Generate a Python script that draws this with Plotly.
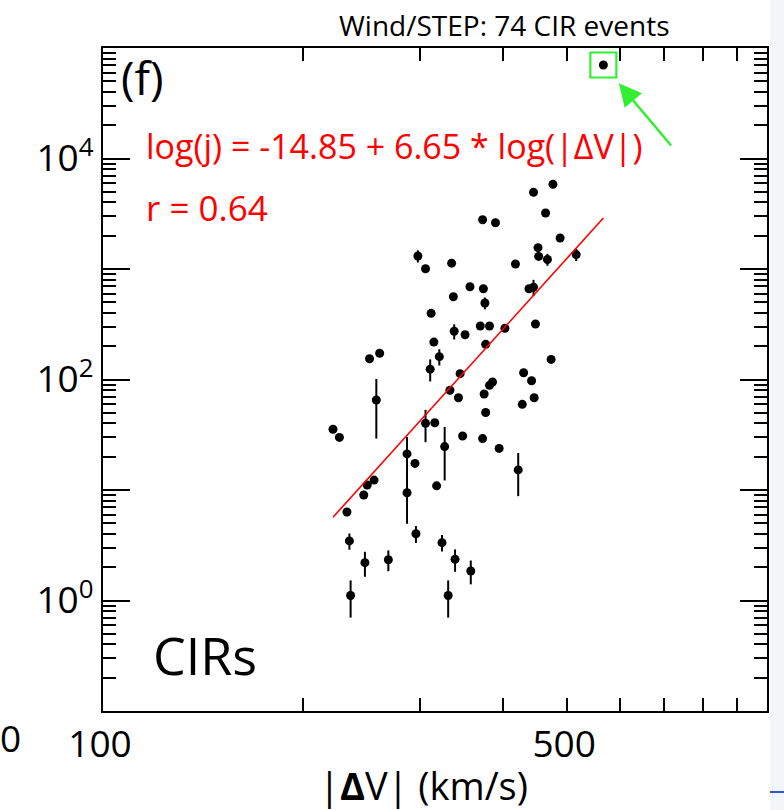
import numpy as np
import plotly.graph_objects as go

# ---- data ----
speed = [476, 445, 464, 373, 390, 488, 452, 453, 467, 516,
         298, 306, 335, 418, 357, 374, 438, 445, 337, 376,
         312, 370, 382, 403, 448, 338, 351, 377, 315, 321,
         311, 261, 252, 473, 345, 430, 442, 386, 382, 258,
         333, 343, 375, 428, 446, 377, 222, 227, 306, 316,
         348, 373, 327, 395, 287, 287, 422, 295, 318, 247,
         250, 256, 233, 235, 248, 269, 296, 324, 339, 358,
         236, 331, 567]
flux = [5840, 4940, 3210, 2790, 2620, 1910, 1560, 1300, 1220, 1350,
        1310, 1006, 1130, 1110, 691, 663, 663, 683, 561, 492,
        397, 305, 305, 291, 318, 273, 254, 208, 218, 161,
        124, 173, 154, 152, 113, 115, 97.5, 94.9, 88.6, 65.2,
        79.9, 68.4, 73.9, 59.6, 68.4, 50.3, 35.5, 29.9, 40.1, 40.6,
        30.8, 29.2, 24.7, 23.8, 21.2, 9.45, 15.2, 17.4, 10.9, 9.01,
        11.1, 12.3, 6.32, 3.46, 2.20, 2.34, 4.02, 3.34, 2.36, 1.85,
        1.11, 1.11, 70150]
flux_err = [0, 0, 0, 0, 0, 0, 0, 0, 150, 170,
            165, 0, 0, 0, 0, 0, 0, 115, 0, 60,
            0, 0, 0, 0, 0, 43, 0, 0, 0, 27,
            28, 0, 0, 0, 0, 0, 0, 0, 0, 36,
            0, 0, 0, 0, 0, 0, 0, 0, 13, 0,
            0, 0, 12.5, 0, 9, 4.5, 6.4, 0, 0, 0,
            0, 0, 0.53, 0.58, 0.56, 0.50, 0.70, 0.57, 0.54, 0.45,
            0.41, 0.41, 0]

fit_a, fit_b = -14.85, 6.65
x_label_ticks = [100, 500]
x_label_text = ["100", "500"]
x_other_ticks = [200, 300, 400, 600, 700, 800, 900]
y_label_ticks = [1, 100, 1e4]
y_label_text = ["10<sup>0</sup>", "10<sup>2</sup>", "10<sup>4</sup>"]
y_other_major = [10, 1000]
y_minor = [m * 10.0 ** e for e in range(-1, 5) for m in range(2, 10)]

FONT = "Open Sans"

fig = go.Figure()

# fit line across the data span (on the overlay axis carrying the unlabeled decade ticks)
xl = np.array([min(speed), max(speed)], dtype=float)
yl = 10 ** (fit_a + fit_b * np.log10(xl))
fig.add_trace(go.Scatter(x=xl, y=yl, mode="lines", yaxis="y2",
                         line=dict(color="#ff0000", width=1.6),
                         hoverinfo="skip", showlegend=False))

fig.add_trace(go.Scatter(
    x=speed, y=flux, mode="markers",
    marker=dict(color="black", size=9),
    error_y=dict(type="data", array=flux_err, visible=True,
                 color="black", thickness=2, width=0),
    showlegend=False))

tickfont = dict(family=FONT, size=37, color="black")

fig.update_layout(
    xaxis=dict(type="log", range=[2, 3], tickmode="array",
               tickvals=x_label_ticks, ticktext=x_label_text,
               ticks="inside", ticklen=13, tickwidth=1.8, tickcolor="black",
               minor=dict(tickmode="array", tickvals=x_other_ticks, ticks="inside",
                          ticklen=13, tickwidth=1.8, tickcolor="black"),
               showgrid=False, zeroline=False, showline=True,
               linecolor="black", linewidth=2, mirror="ticks",
               tickfont=tickfont, ticklabelshift=-3),
    yaxis=dict(type="log", range=[-1, 5], tickmode="array",
               tickvals=y_label_ticks, ticktext=y_label_text,
               ticks="inside", ticklen=27, tickwidth=1.8, tickcolor="black",
               minor=dict(tickmode="array", tickvals=y_minor, ticks="inside",
                          ticklen=13, tickwidth=1.8, tickcolor="black"),
               showgrid=False, zeroline=False, showline=True,
               linecolor="black", linewidth=2, mirror="ticks",
               tickfont=tickfont),
    yaxis2=dict(type="log", range=[-1, 5], overlaying="y", side="left",
                tickmode="array", tickvals=y_other_major, showticklabels=False,
                ticks="inside", ticklen=27, tickwidth=1.8, tickcolor="black",
                showgrid=False, zeroline=False, showline=False, mirror="ticks"),
)

# outlier highlight box (log-space half-widths of ~13 px and ~12.5 px)
out_x, out_y = speed[-1], flux[-1]
kx, ky = 10 ** (13 / 664), 10 ** (12.5 / 110.5)
fig.add_shape(type="rect", xref="x", yref="y",
              x0=out_x / kx, x1=out_x * kx, y0=out_y / ky, y1=out_y * ky,
              line=dict(color="#33ee33", width=2.2))

ann = []
ann.append(dict(x=np.log10(out_x), y=np.log10(out_y), xref="x", yref="y",
                text="", showarrow=True, ax=69, ay=82, standoff=24,
                arrowcolor="#33ee33", arrowwidth=2.5, arrowhead=2, arrowsize=1.8))
ann.append(dict(text="Wind/STEP: 74 CIR events", xref="paper", yref="paper",
                x=0.604, y=1.0347, xanchor="center", yanchor="middle",
                showarrow=False, font=dict(family=FONT, size=28, color="black")))
ann.append(dict(text="(f)", xref="paper", yref="paper",
                x=0.024, y=0.956, xanchor="left", yanchor="middle",
                showarrow=False, font=dict(family=FONT, size=46, color="black")))
ann.append(dict(text="log(j) = -14.85 + 6.65 * log(|ΔV|)", xref="paper", yref="paper",
                x=0.061, y=0.852, xanchor="left", yanchor="middle",
                showarrow=False, font=dict(family=FONT, size=34, color="#ff0000")))
ann.append(dict(text="r = 0.64", xref="paper", yref="paper",
                x=0.061, y=0.760, xanchor="left", yanchor="middle",
                showarrow=False, font=dict(family=FONT, size=35, color="#ff0000")))
ann.append(dict(text="CIRs", xref="paper", yref="paper",
                x=0.072, y=0.0845, xanchor="left", yanchor="middle",
                showarrow=False, font=dict(family=FONT, size=52, color="black")))
ann.append(dict(text="|<b>Δ</b>V| (km/s)", xref="paper", yref="paper",
                x=0.482, y=-0.1116, xanchor="center", yanchor="middle",
                showarrow=False, font=dict(family=FONT, size=38, color="black")))
ann.append(dict(text="0", xref="paper", yref="paper",
                x=-0.140, y=-0.0407, xanchor="center", yanchor="middle",
                showarrow=False, font=dict(family=FONT, size=37, color="black")))

# faint neighbouring-panel strip at right edge
fig.add_shape(type="rect", xref="paper", yref="paper",
              x0=1.0045, x1=1.03, y0=-0.15, y1=1.08,
              fillcolor="#f2f6f9", line=dict(width=0), layer="below")
fig.add_shape(type="line", xref="paper", yref="paper",
              x0=1.0045, x1=1.03, y0=-0.1222, y1=-0.1222,
              line=dict(color="#3358c8", width=2))

fig.update_layout(width=784, height=810, autosize=False,
                  margin=dict(l=103, r=17, t=48, b=99),
                  paper_bgcolor="white", plot_bgcolor="white",
                  annotations=ann, showlegend=False)

fig.write_html("out.html")
